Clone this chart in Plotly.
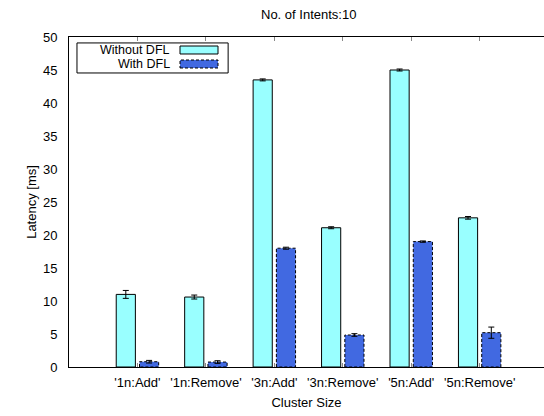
import plotly.graph_objects as go

# Latency per cluster operation, 10 intents
categories = ["'1n:Add'", "'1n:Remove'", "'3n:Add'", "'3n:Remove'", "'5n:Add'", "'5n:Remove'"]
without_dfl = [11.0, 10.6, 43.5, 21.1, 45.0, 22.6]
without_dfl_err = [0.6, 0.3, 0.15, 0.15, 0.15, 0.2]
with_dfl = [0.8, 0.75, 18.0, 4.85, 19.0, 5.2]
with_dfl_err = [0.2, 0.2, 0.15, 0.2, 0.1, 0.85]
y_ticks = [0, 5, 10, 15, 20, 25, 30, 35, 40, 45, 50]

FONT = "Liberation Sans, Arial, sans-serif"
CYAN = "#99ffff"
BLUE = "#4169e1"
BAR_W = 0.28
OFF_A = -0.31
OFF_B = 0.03

idx = list(range(len(categories)))
fig = go.Figure()

fig.add_trace(go.Bar(
    x=idx, y=without_dfl, width=BAR_W, offset=OFF_A,
    marker=dict(color=CYAN, line=dict(color="black", width=1)),
    name="Without DFL", showlegend=False,
))
fig.add_trace(go.Bar(
    x=idx, y=with_dfl, width=BAR_W, offset=OFF_B,
    marker=dict(color=BLUE, line=dict(width=0)),
    name="With DFL", showlegend=False,
))

# dashed outline around each "With DFL" bar
ox, oy = [], []
for i, v in zip(idx, with_dfl):
    x0, x1 = i + OFF_B, i + OFF_B + BAR_W
    ox += [x0, x0, x1, x1, x0, None]
    oy += [0, v, v, 0, 0, None]
fig.add_trace(go.Scatter(
    x=ox, y=oy, mode="lines", line=dict(color="black", width=1, dash="3px,2px"),
    hoverinfo="skip", showlegend=False,
))

# error bars at the bar centres
for vals, errs, off in [(without_dfl, without_dfl_err, OFF_A), (with_dfl, with_dfl_err, OFF_B)]:
    fig.add_trace(go.Scatter(
        x=[i + off + BAR_W / 2 for i in idx], y=vals, mode="markers",
        marker=dict(size=1, color="rgba(0,0,0,0)"),
        error_y=dict(type="data", array=errs, color="black", thickness=1, width=3),
        showlegend=False, hoverinfo="skip",
    ))

# legend box drawn by hand: label on the left, swatch on the right
fig.add_shape(type="rect", xref="paper", yref="paper", x0=0.0168, x1=0.335, y0=0.891, y1=0.982,
              line=dict(color="black", width=1), fillcolor="white", layer="above")
fig.add_shape(type="rect", xref="paper", yref="paper", x0=0.2337, x1=0.3137, y0=0.9485, y1=0.9727,
              line=dict(color="black", width=1), fillcolor=CYAN, layer="above")
fig.add_shape(type="rect", xref="paper", yref="paper", x0=0.2337, x1=0.3137, y0=0.9061, y1=0.9303,
              line=dict(color="black", width=1, dash="3px,2px"), fillcolor=BLUE, layer="above")
for txt, yy in [("Without DFL", 0.9606), ("With DFL", 0.9182)]:
    fig.add_annotation(text=txt, xref="paper", yref="paper", x=0.2147, y=yy,
                       xanchor="right", yanchor="middle", showarrow=False,
                       borderpad=0,
                       font=dict(family=FONT, size=12.5, color="black"))

fig.add_annotation(text="No. of Intents:10", xref="x", yref="paper", x=2.5, y=1.0,
                   yshift=23, yanchor="middle", xanchor="center", showarrow=False,
                   font=dict(family=FONT, size=13, color="black"))

fig.update_layout(
    width=544, height=416,
    margin=dict(l=69, r=0, t=37, b=49),
    paper_bgcolor="white", plot_bgcolor="white",
    barmode="overlay",
    font=dict(family=FONT, size=13, color="black"),
    xaxis=dict(
        range=[-1, 5.94], tickvals=idx, ticktext=categories,
        showline=True, linecolor="black", linewidth=1, mirror="ticks",
        ticks="inside", ticklen=4, tickcolor="#888", showgrid=False, zeroline=False,
        ticklabelstandoff=3,
        title=dict(text="Cluster Size", standoff=9, font=dict(size=13)),
        tickfont=dict(size=13),
    ),
    yaxis=dict(
        range=[0, 50], tickvals=y_ticks,
        showline=True, linecolor="black", linewidth=1,
        ticks="", showgrid=False, zeroline=False,
        ticklabelstandoff=8,
        title=dict(text="Latency [ms]", standoff=3, font=dict(size=13)),
        tickfont=dict(size=13),
    ),
)

fig.write_html("out.html")
